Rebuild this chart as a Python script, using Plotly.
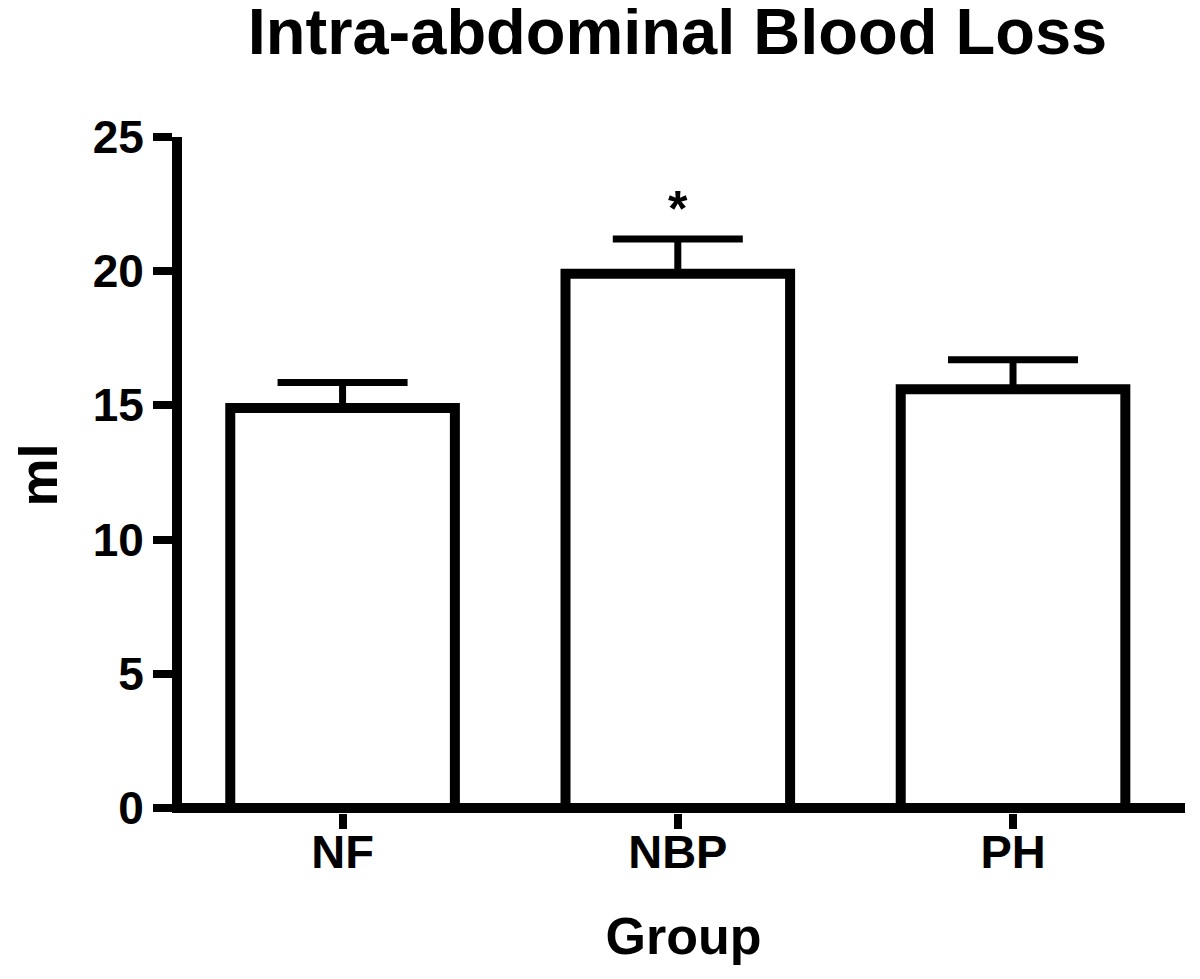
import plotly.graph_objects as go

groups = ["NF", "NBP", "PH"]
means = [14.9, 19.9, 15.6]
sem = [0.95, 1.3, 1.1]
sig_marks = ["", "*", ""]
y_ticks = [0, 5, 10, 15, 20, 25]

FONT = "Liberation Sans, Arial, sans-serif"
W, H = 1192, 971

fig = go.Figure()
fig.add_trace(go.Bar(
    x=groups, y=means, width=0.67,
    marker=dict(color="white", line=dict(color="black", width=10)),
    error_y=dict(type="data", symmetric=False, array=sem,
                 arrayminus=[0] * len(sem), color="black",
                 thickness=7, width=65),
    showlegend=False, hoverinfo="skip",
))

for g, m, s, t in zip(groups, means, sem, sig_marks):
    if t:
        fig.add_annotation(x=g, y=m + s, text=f"<b>{t}</b>", showarrow=False,
                           yanchor="bottom", yshift=0,
                           font=dict(family=FONT, size=50, color="black"))

fig.update_layout(
    width=W, height=H,
    margin=dict(l=174, r=15, t=129, b=166),
    paper_bgcolor="white", plot_bgcolor="white",
    title=dict(text="<b>Intra-abdominal Blood Loss</b>", x=669.5 / W, xanchor="center",
               y=1 - 23 / H, yanchor="middle", yref="container", pad=dict(t=0, b=0),
               font=dict(family=FONT, size=65, color="black"),
               automargin=False),
    font=dict(family=FONT, color="black"),
)
fig.update_xaxes(
    range=[-0.479, 2.513], showline=False,
    ticks="outside", ticklen=15, tickwidth=8, tickcolor="black",
    ticklabelstandoff=-17,
    tickfont=dict(family=FONT, size=47, color="black", weight="bold"),
    title=dict(text="<b>Group</b>", font=dict(family=FONT, size=52, color="black"),
               standoff=40),
    showgrid=False, zeroline=False, automargin=False,
)
fig.update_yaxes(
    range=[-0.19, 25], tickvals=y_ticks, showline=True, linecolor="black", linewidth=10,
    ticks="outside", ticklen=19, tickwidth=8, tickcolor="black",
    tickfont=dict(family=FONT, size=46, color="black", weight="bold"),
    title=dict(text="<b>ml</b>", font=dict(family=FONT, size=54, color="black"),
               standoff=30),
    showgrid=False, zeroline=True, zerolinecolor="black", zerolinewidth=10,
    automargin=False,
)

fig.write_html("out.html")
